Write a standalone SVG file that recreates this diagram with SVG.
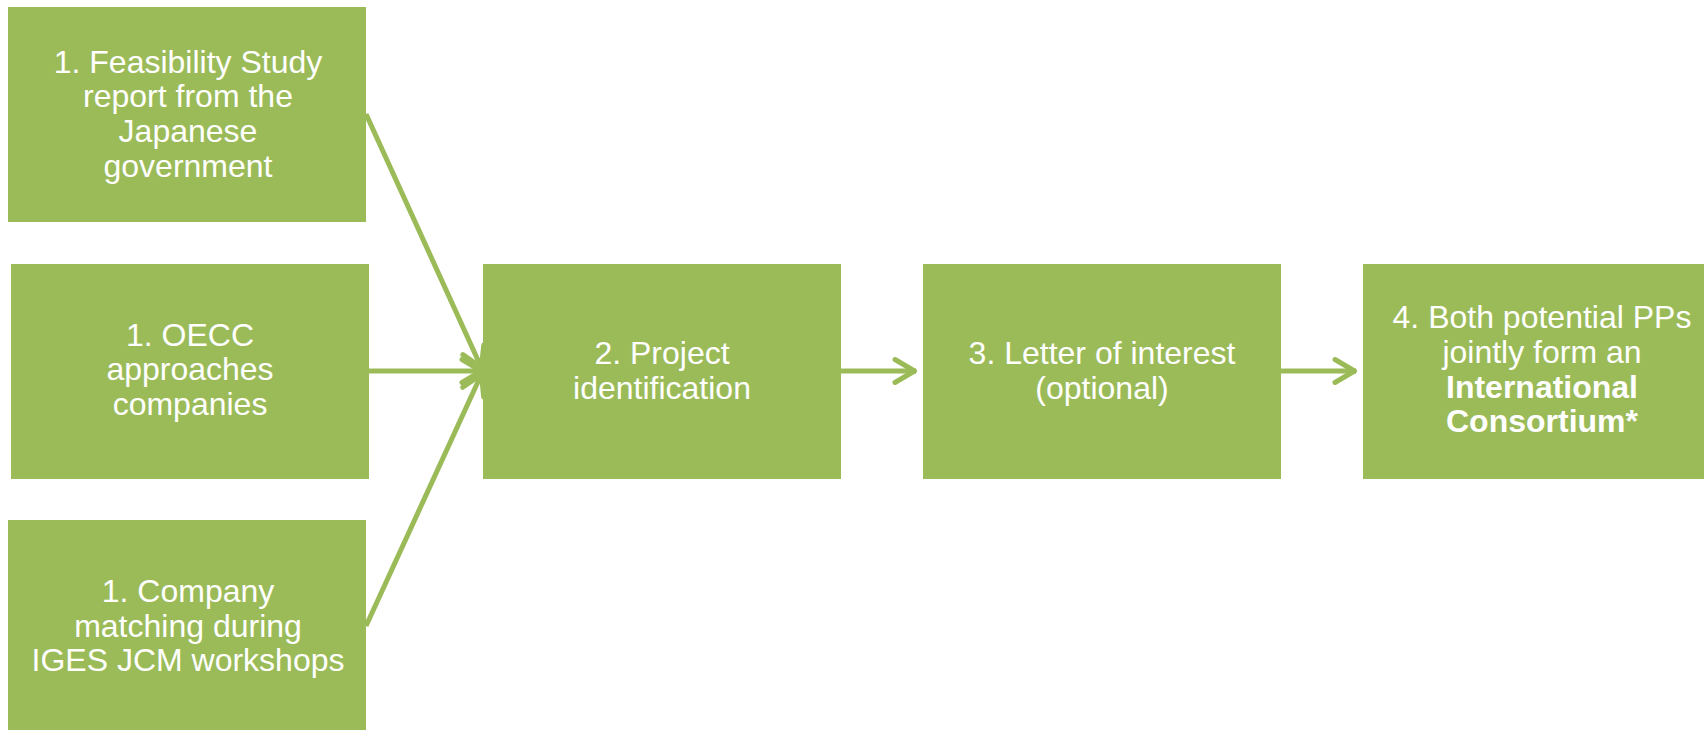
<svg xmlns="http://www.w3.org/2000/svg" width="1704" height="730" viewBox="0 0 1704 730">
<style>
.box{fill:#9BBB59}
.t{font-family:"Liberation Sans",Arial,sans-serif;font-size:32px;fill:#FFFFFF;text-anchor:middle}
.b{font-weight:bold}
.c{stroke:#9BBB59;stroke-width:5;fill:none}
</style>
<defs>
<marker id="arr" markerUnits="userSpaceOnUse" viewBox="-26 -15 30 30" refX="0" refY="0" markerWidth="30" markerHeight="30" orient="auto">
<path d="M -21 -11.5 L -1.5 0 L -21 11.5" fill="none" stroke="#9BBB59" stroke-width="5" stroke-linecap="round" stroke-linejoin="round"/>
</marker>
</defs>
<rect width="1704" height="730" fill="#FFFFFF"/>
<g id="connectors">
<line class="c" x1="366" y1="114" x2="482" y2="369" marker-end="url(#arr)"/>
<line class="c" x1="369" y1="371" x2="483" y2="371" marker-end="url(#arr)"/>
<line class="c" x1="366" y1="626" x2="482" y2="373" marker-end="url(#arr)"/>
<line class="c" x1="841" y1="371" x2="916" y2="371" marker-end="url(#arr)"/>
<line class="c" x1="1281" y1="371" x2="1356" y2="371" marker-end="url(#arr)"/>
</g>
<g id="nodeA">
<rect class="box" x="8" y="7" width="358" height="215"/>
<text class="t"><tspan x="188" y="72.7">1. Feasibility Study</tspan><tspan x="188" y="107.4">report from the</tspan><tspan x="188" y="142.1">Japanese</tspan><tspan x="188" y="176.8">government</tspan></text>
</g>
<g id="nodeB">
<rect class="box" x="11" y="264" width="358" height="215"/>
<text class="t"><tspan x="190" y="345.6">1. OECC</tspan><tspan x="190" y="380.3">approaches</tspan><tspan x="190" y="415">companies</tspan></text>
</g>
<g id="nodeC">
<rect class="box" x="8" y="520" width="358" height="215"/>
<text class="t"><tspan x="188" y="602">1. Company</tspan><tspan x="188" y="636.7">matching during</tspan><tspan x="188" y="671.4">IGES JCM workshops</tspan></text>
</g>
<g id="node2">
<rect class="box" x="483" y="264" width="358" height="215"/>
<text class="t"><tspan x="662" y="364">2. Project</tspan><tspan x="662" y="398.7">identification</tspan></text>
</g>
<g id="node3">
<rect class="box" x="923" y="264" width="358" height="215"/>
<text class="t"><tspan x="1102" y="364">3. Letter of interest</tspan><tspan x="1102" y="398.7">(optional)</tspan></text>
</g>
<g id="node4">
<rect class="box" x="1363" y="264" width="358" height="215"/>
<text class="t"><tspan x="1542" y="328">4. Both potential PPs</tspan><tspan x="1542" y="363">jointly form an</tspan><tspan class="b" x="1542" y="398">International</tspan><tspan class="b" x="1542" y="432">Consortium*</tspan></text>
</g>
</svg>
